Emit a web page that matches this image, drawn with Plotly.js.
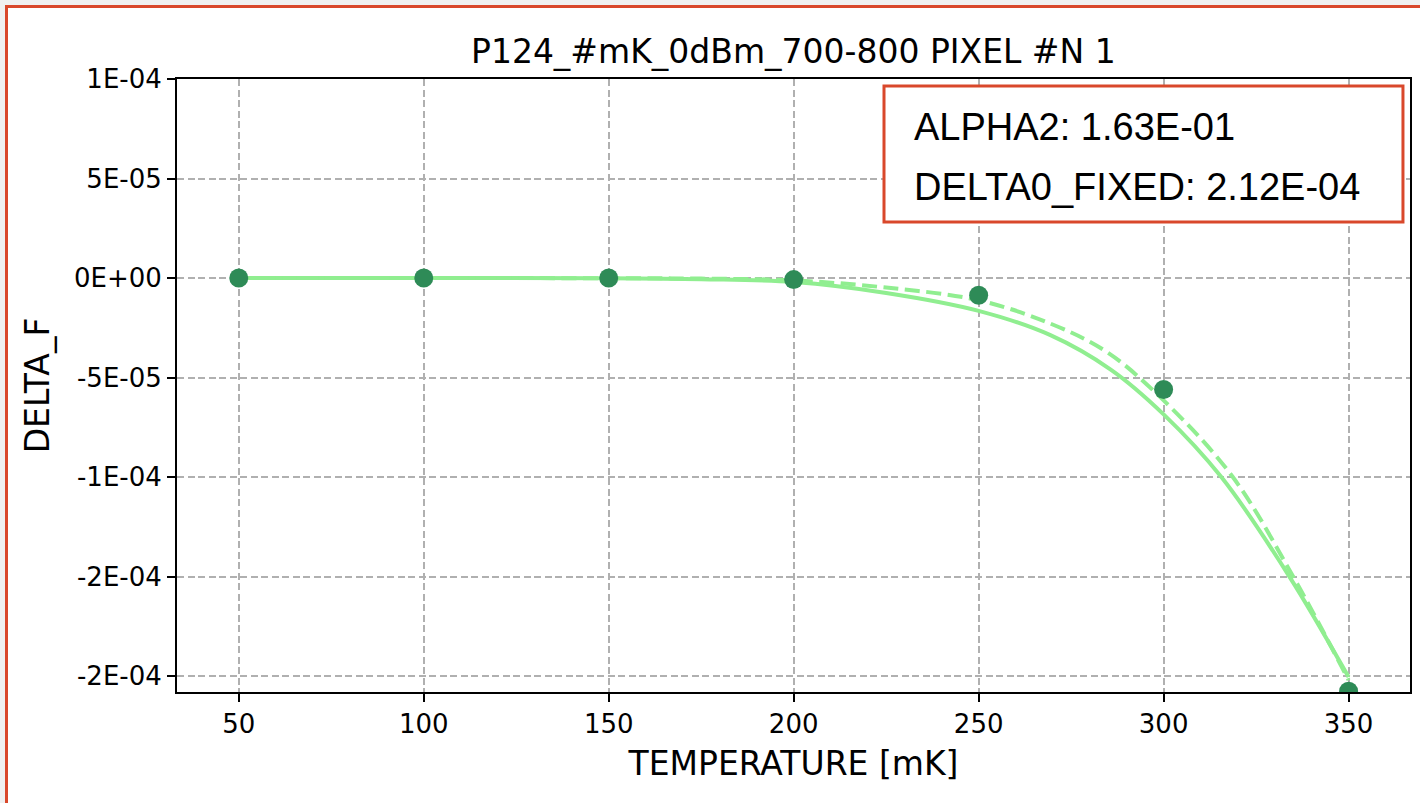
<!DOCTYPE html>
<html>
<head>
<meta charset="utf-8">
<script src="https://cdn.plot.ly/plotly-3.0.1.min.js"></script>
<style>
  html, body { margin: 0; padding: 0; background: #f0f0f0; width: 1420px; height: 803px; overflow: hidden; }
  #frame { position: absolute; left: 5px; top: 5px; width: 2000px; height: 1200px; border: 3px solid #d9482b; background: #ffffff; }
  #chart { position: absolute; left: 0; top: 0; width: 1420px; height: 803px; }
</style>
</head>
<body>
<div id="frame"></div>
<div id="chart"></div>
<script>
// ---- data ----
const temperatures = [50, 100, 150, 200, 250, 300, 350];
const deltaF = [0, 0, 0, -0.8e-6, -8.7e-6, -56.0e-6, -207.6e-6];

const fitSolidT = [50, 100, 150, 175, 200, 225, 250, 269.4, 285.7, 300, 315.6, 334, 350];
const fitSolidV = [0, 0, -0.1e-6, -0.6e-6, -2.0e-6, -7.5e-6, -16.5e-6, -28.7e-6, -46e-6, -68.5e-6, -100e-6, -150e-6, -200.5e-6];

const fitDashT = [50, 100, 150, 175, 200, 225, 250, 269.4, 284.6, 300, 318.7, 335, 350];
const fitDashV = [0, 0, -0.1e-6, -0.3e-6, -1.2e-6, -4.8e-6, -11.2e-6, -22.9e-6, -37.1e-6, -61.5e-6, -100e-6, -150e-6, -202e-6];

const yTickVals = [1e-4, 5e-5, 0, -5e-5, -1e-4, -1.5e-4, -2e-4];
const yTickText = ['1E-04', '5E-05', '0E+00', '-5E-05', '-1E-04', '-2E-04', '-2E-04'];
const xTickVals = [50, 100, 150, 200, 250, 300, 350];

const titleText = 'P124_#mK_0dBm_700-800 PIXEL #N 1';
const xTitle = 'TEMPERATURE [mK]';
const yTitle = 'DELTA_F';
const boxLines = ['ALPHA2: 1.63E-01', 'DELTA0_FIXED: 2.12E-04'];

// ---- traces ----
const traces = [
  {
    x: fitSolidT, y: fitSolidV, type: 'scatter', mode: 'lines',
    line: { color: '#90ee90', width: 4, shape: 'spline', smoothing: 1.0 },
    hoverinfo: 'skip', showlegend: false
  },
  {
    x: fitDashT, y: fitDashV, type: 'scatter', mode: 'lines',
    line: { color: '#90ee90', width: 4, dash: '15px,6.5px', shape: 'spline', smoothing: 1.0 },
    hoverinfo: 'skip', showlegend: false
  },
  {
    x: temperatures, y: deltaF, type: 'scatter', mode: 'markers',
    marker: { color: '#2e8b57', size: 19 },
    showlegend: false
  }
];

const tickFont = { family: 'DejaVu Sans', size: 26, color: '#000' };
const axisCommon = {
  showline: true, linecolor: '#000', linewidth: 2, mirror: true,
  ticks: 'outside', ticklen: 8, tickwidth: 2, tickcolor: '#000',
  showgrid: true, gridcolor: '#b0b0b0', gridwidth: 2, griddash: '7px,3.5px',
  zeroline: false, tickfont: tickFont, automargin: false
};

const layout = {
  width: 1420, height: 803,
  paper_bgcolor: 'rgba(0,0,0,0)', plot_bgcolor: '#ffffff',
  margin: { l: 177, r: 10, t: 79, b: 111, pad: 0 },
  showlegend: false,
  title: {
    text: titleText, font: { family: 'DejaVu Sans', size: 33, color: '#000' },
    x: 0.5587, xanchor: 'center', y: 1 - 51 / 803, yanchor: 'middle', xref: 'container', yref: 'container'
  },
  xaxis: Object.assign({}, axisCommon, {
    range: [33.3, 366.6], tickmode: 'array', tickvals: xTickVals,
    title: { text: xTitle, font: { family: 'DejaVu Sans', size: 33, color: '#000' }, standoff: 14 }
  }),
  yaxis: Object.assign({}, axisCommon, {
    range: [-2.08e-4, 1e-4], tickmode: 'array', tickvals: yTickVals, ticktext: yTickText,
    title: { text: yTitle, font: { family: 'DejaVu Sans', size: 33, color: '#000' }, standoff: 14 }
  }),
  shapes: [
    {
      type: 'rect', xref: 'paper', yref: 'paper',
      x0: 0.5734, x1: 0.9943, y0: 0.7667, y1: 0.9886,
      line: { color: '#d9482b', width: 3 }, fillcolor: '#ffffff', layer: 'above'
    }
  ],
  annotations: [
    {
      xref: 'paper', yref: 'paper', x: 0.5961, y: 0.9217, xanchor: 'left', yanchor: 'middle',
      text: boxLines[0], showarrow: false,
      font: { family: 'Liberation Sans, Arial', size: 38, color: '#000' }
    },
    {
      xref: 'paper', yref: 'paper', x: 0.5961, y: 0.8238, xanchor: 'left', yanchor: 'middle',
      text: boxLines[1], showarrow: false,
      font: { family: 'Liberation Sans, Arial', size: 38, color: '#000' }
    }
  ]
};

Plotly.newPlot('chart', traces, layout, { displayModeBar: false, staticPlot: true });
</script>
</body>
</html>
